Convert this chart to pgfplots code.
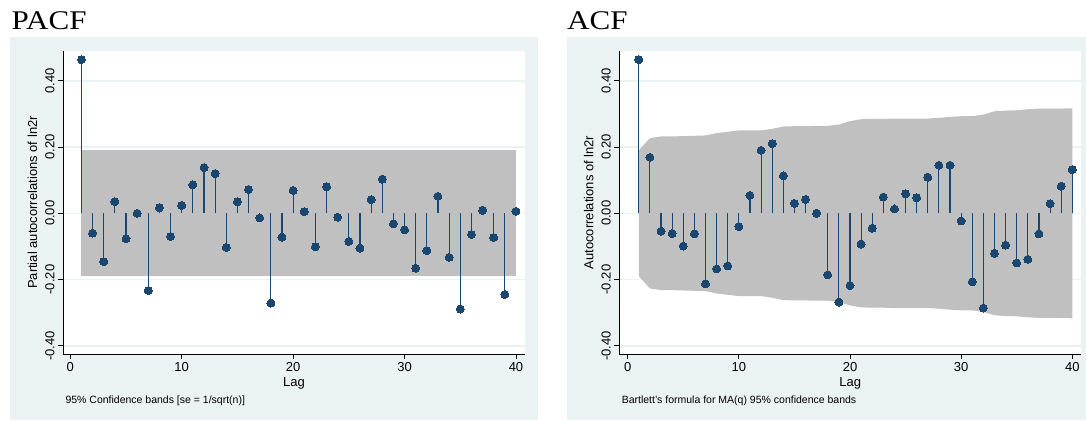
\documentclass[border=0pt]{standalone}
\usepackage{graphicx}
\usepackage{pgfplots}
\pgfplotsset{compat=1.18}
\usepackage{fontspec}
\setmainfont{Liberation Sans}
\newfontfamily\titlefont{Liberation Serif}
\definecolor{stbg}{HTML}{EAF2F3}
\definecolor{stnavy}{HTML}{1A476F}
\definecolor{stband}{HTML}{C0C0C0}

% common look of the two Stata-like panels
\pgfplotsset{
  stata/.style={
    scale only axis, width=462pt, height=303pt,
    ymin=-0.4248, ymax=0.49,
    axis x line*=bottom, axis y line*=left,
    axis line style={black, line width=0.9pt},
    axis background/.style={fill=white},
    tick align=outside, major tick length=5pt,
    tick style={black, line width=0.8pt},
    xtick={0,10,20,30,40}, xticklabels={0,10,20,30,40},
    ytick={-0.4,-0.2,0,0.2,0.4}, yticklabels={-0.40,-0.20,0.00,0.20,0.40},
    ymajorgrids, major grid style={stbg, line width=1.5pt},
    tick label style={font=\fontsize{13}{15}\selectfont},
    yticklabel style={rotate=90, anchor=south},
    label style={font=\fontsize{13}{15}\selectfont},
    xlabel={Lag},
    xlabel style={at={(axis description cs:0.5,-0.0957)}, anchor=center},
    ylabel style={at={(axis description cs:-0.066,0.5)}, anchor=center},
    clip=false,
  },
  stem/.style={ycomb, stnavy, line width=1.1pt, mark=*, mark size=4pt,
    mark options={fill=stnavy, draw=stnavy, line width=0pt}},
}

\begin{document}
\begin{tikzpicture}
\fill[white] (0pt,0pt) rectangle (1086pt,420pt);
\fill[stbg] (10pt,0pt) rectangle (538pt,382.7pt);
\fill[stbg] (566.7pt,0pt) rectangle (1086pt,382.7pt);
\node[anchor=base west, inner sep=0, font=\titlefont\fontsize{27}{30}\selectfont] at (11.5pt,390pt) {\scalebox{1.15}[1]{PACF}};
\node[anchor=base west, inner sep=0, font=\titlefont\fontsize{27}{30}\selectfont] at (567pt,390pt) {\scalebox{1.15}[1]{ACF}};

\begin{axis}[stata, at={(63pt,66pt)}, anchor=south west,
    xmin=-0.655, xmax=40.81, ylabel={Partial autocorrelations of ln2r}]
\addplot[fill=stband, draw=none, forget plot] coordinates {(1,0.19)(40,0.19)(40,-0.19)(1,-0.19)} -- cycle;
\addplot[stem] coordinates {
(1,0.464)(2,-0.060)(3,-0.146)(4,0.035)(5,-0.077)(6,0.000)(7,-0.233)(8,0.017)
(9,-0.070)(10,0.024)(11,0.086)(12,0.138)(13,0.120)(14,-0.103)(15,0.035)(16,0.072)
(17,-0.014)(18,-0.271)(19,-0.072)(20,0.069)(21,0.005)(22,-0.101)(23,0.080)(24,-0.012)
(25,-0.085)(26,-0.105)(27,0.041)(28,0.103)(29,-0.032)(30,-0.050)(31,-0.166)(32,-0.113)
(33,0.051)(34,-0.133)(35,-0.289)(36,-0.064)(37,0.009)(38,-0.073)(39,-0.245)(40,0.006)};
\node[anchor=west, inner sep=0, font=\fontsize{10.5}{12}\selectfont] at (axis description cs:0.005,-0.155) {95\% Confidence bands [se = 1/sqrt(n)]};
\end{axis}

\begin{axis}[stata, at={(619.3pt,66pt)}, anchor=south west,
    xmin=-0.755, xmax=40.81, ylabel={Autocorrelations of ln2r}]
\addplot[fill=stband, draw=none, forget plot] coordinates {
(1,0.190)(2,0.227)(3,0.232)(4,0.232)(5,0.233)(6,0.234)(7,0.235)(8,0.242)(9,0.246)(10,0.250)
(11,0.250)(12,0.250)(13,0.255)(14,0.262)(15,0.263)(16,0.263)(17,0.264)(18,0.264)(19,0.268)(20,0.278)
(21,0.284)(22,0.285)(23,0.285)(24,0.286)(25,0.286)(26,0.286)(27,0.286)(28,0.288)(29,0.291)(30,0.293)
(31,0.293)(32,0.298)(33,0.308)(34,0.310)(35,0.311)(36,0.314)(37,0.316)(38,0.316)(39,0.316)(40,0.317)
(40,-0.317)(39,-0.316)(38,-0.316)(37,-0.316)(36,-0.314)(35,-0.311)(34,-0.310)(33,-0.308)(32,-0.298)(31,-0.293)
(30,-0.293)(29,-0.291)(28,-0.288)(27,-0.286)(26,-0.286)(25,-0.286)(24,-0.286)(23,-0.285)(22,-0.285)(21,-0.284)
(20,-0.278)(19,-0.268)(18,-0.264)(17,-0.264)(16,-0.263)(15,-0.263)(14,-0.262)(13,-0.255)(12,-0.250)(11,-0.250)
(10,-0.250)(9,-0.246)(8,-0.242)(7,-0.235)(6,-0.234)(5,-0.233)(4,-0.232)(3,-0.232)(2,-0.227)(1,-0.190)} -- cycle;
\addplot[stem] coordinates {
(1,0.464)(2,0.169)(3,-0.054)(4,-0.061)(5,-0.099)(6,-0.062)(7,-0.213)(8,-0.168)
(9,-0.159)(10,-0.040)(11,0.054)(12,0.190)(13,0.210)(14,0.113)(15,0.030)(16,0.042)
(17,0.000)(18,-0.186)(19,-0.268)(20,-0.218)(21,-0.093)(22,-0.045)(23,0.049)(24,0.013)
(25,0.059)(26,0.047)(27,0.109)(28,0.145)(29,0.145)(30,-0.023)(31,-0.207)(32,-0.286)
(33,-0.121)(34,-0.096)(35,-0.150)(36,-0.139)(37,-0.062)(38,0.029)(39,0.082)(40,0.132)};
\node[anchor=west, inner sep=0, font=\fontsize{10.5}{12}\selectfont] at (axis description cs:0.005,-0.155) {Bartlett's formula for MA(q) 95\% confidence bands};
\end{axis}
\end{tikzpicture}
\end{document}
